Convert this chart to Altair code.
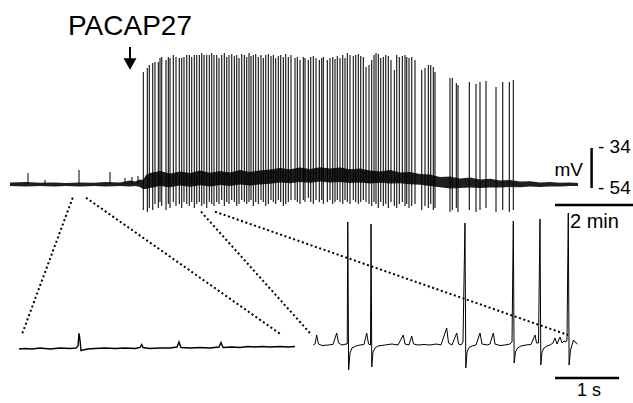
import altair as alt
import pandas as pd

# ---------------- data ----------------
# Top trace: time in min, membrane potential in mV
# spikes: (time min, peak mV, trough mV)
spikes = [
    (3.333, 4.0, -65), (3.433, 6.0, -66), (3.483, 7.5, -64), (3.568, 8.5, -65),
    (3.625, 9.0, -62), (3.708, 9.0, -64), (3.750, 11.0, -61), (3.793, 11.5, -63),
    (3.900, 10.0, -65), (3.958, 11.5, -62), (4.000, 11.0, -64), (4.083, 12.5, -61),
    (4.150, 11.5, -63), (4.233, 11.0, -62), (4.293, 11.0, -64), (4.350, 11.5, -61),
    (4.418, 12.5, -62), (4.483, 12.5, -63), (4.543, 11.5, -61), (4.608, 12.5, -64),
    (4.668, 12.5, -62), (4.733, 12.5, -61), (4.793, 13.5, -63), (4.850, 12.5, -62),
    (4.918, 12.5, -64), (4.983, 12.5, -61), (5.043, 13.5, -62), (5.100, 12.5, -63),
    (5.168, 12.5, -61), (5.225, 11.0, -62), (5.293, 12.5, -60), (5.358, 13.5, -63),
    (5.418, 11.5, -61), (5.475, 12.5, -62), (5.543, 13.0, -60), (5.608, 12.0, -61),
    (5.668, 12.5, -63), (5.725, 11.0, -62), (5.793, 13.0, -60), (5.858, 12.5, -61),
    (5.918, 11.5, -62), (5.975, 13.5, -61), (6.025, 12.0, -60), (6.083, 12.5, -63),
    (6.143, 13.0, -61), (6.208, 11.5, -62), (6.275, 12.5, -60), (6.333, 11.0, -61),
    (6.393, 12.5, -63), (6.458, 13.0, -62), (6.525, 12.0, -60), (6.583, 12.5, -61),
    (6.643, 11.0, -62), (6.708, 12.0, -60), (6.768, 12.5, -61), (6.833, 11.5, -63),
    (6.893, 13.0, -62), (6.958, 11.5, -61), (7.025, 12.5, -60),
    (7.125, 11.0, -60), (7.183, 11.5, -61), (7.250, 10.0, -62), (7.333, 11.5, -60),
    (7.375, 11.0, -61), (7.458, 10.0, -59), (7.518, 11.5, -61), (7.583, 12.0, -62),
    (7.650, 11.0, -60), (7.733, 10.0, -61), (7.793, 11.0, -60), (7.833, 11.5, -62),
    (7.933, 10.0, -61), (8.000, 11.0, -60), (8.068, 11.5, -62), (8.125, 10.5, -61),
    (8.183, 12.0, -60), (8.250, 11.0, -61), (8.318, 12.5, -62), (8.375, 11.0, -60),
    (8.433, 13.5, -61), (8.500, 12.5, -62), (8.583, 12.0, -60), (8.643, 12.5, -61),
    (8.708, 13.0, -62), (8.768, 12.0, -61), (8.833, 11.5, -60),
    (8.900, 6.5, -61), (8.975, 7.5, -62), (9.043, 10.0, -63), (9.100, 12.5, -61),
    (9.150, 13.5, -62), (9.208, 13.0, -64), (9.268, 11.0, -61), (9.333, 11.5, -63),
    (9.393, 12.5, -62), (9.458, 12.0, -64), (9.525, 10.0, -61), (9.608, 5.0, -63),
    (9.668, 12.5, -64), (9.733, 11.5, -62), (9.808, 12.0, -61), (9.875, 12.5, -63),
    (9.918, 11.5, -62), (9.975, 11.0, -64), (10.043, 11.5, -63), (10.125, 10.0, -62),
    (10.293, 5.0, -65), (10.375, 6.0, -63), (10.458, 7.5, -64), (10.518, 7.5, -62),
    (10.583, 6.5, -65), (10.625, 4.0, -64),
    (11.000, 1.0, -66), (11.058, 1.0, -65), (11.158, -1.5, -64), (11.200, -2.5, -66),
    (11.483, -1.0, -65), (11.650, -2.0, -66), (11.750, -1.0, -65), (11.900, -0.5, -64),
    (12.150, -3.5, -66), (12.318, -1.0, -65), (12.483, -1.0, -66), (12.583, 0.0, -65),
]
# baseline envelope: (time min, upper mV, lower mV)
envelope = [
    (0.00, -51.3, -53.0), (0.40, -51.0, -53.2), (0.75, -51.4, -53.0),
    (1.10, -51.2, -53.3), (1.40, -51.5, -53.0), (1.75, -51.3, -53.3),
    (2.10, -51.4, -53.0), (2.40, -51.0, -53.2), (2.75, -51.2, -53.0),
    (3.00, -50.3, -53.3), (3.125, -50.8, -53.0), (3.25, -49.8, -53.5),
    (3.325, -50.0, -54.5), (3.40, -47.5, -54.5), (3.50, -46.5, -54.0),
    (3.75, -45.5, -53.0), (4.00, -46.8, -53.6), (4.25, -45.8, -52.8),
    (4.50, -46.5, -53.4), (4.75, -45.2, -52.6), (5.00, -46.4, -53.2),
    (5.25, -45.5, -52.5), (5.50, -46.3, -53.0), (5.75, -45.0, -52.3),
    (6.00, -46.0, -52.8), (6.25, -45.2, -52.2), (6.50, -44.8, -51.9),
    (6.75, -44.0, -51.3), (7.00, -44.6, -51.6), (7.25, -43.8, -51.0),
    (7.50, -44.5, -51.4), (7.75, -43.6, -50.8), (8.00, -44.3, -51.3),
    (8.25, -43.8, -51.0), (8.50, -44.6, -51.5), (8.75, -44.2, -51.2),
    (9.00, -45.3, -51.7), (9.25, -45.8, -51.4), (9.50, -45.0, -51.8),
    (9.75, -46.3, -51.6), (10.0, -46.0, -52.1), (10.25, -47.0, -52.4),
    (10.5, -47.3, -53.0), (10.75, -48.5, -53.6), (11.0, -48.2, -54.2),
    (11.25, -49.2, -54.0), (11.5, -48.8, -53.8), (11.75, -49.8, -54.0),
    (12.0, -49.4, -53.7), (12.25, -50.3, -53.8), (12.5, -50.0, -53.5),
    (12.75, -50.8, -53.6), (13.0, -50.6, -53.3), (13.25, -51.2, -53.5),
    (13.5, -51.0, -53.2), (13.75, -51.4, -53.3), (14.0, -51.2, -53.0),
    (14.2, -51.5, -53.0),
]
# small synaptic events before the drug: (time min, peak mV)
events = [(0.45, -46.5), (0.875, -50.0), (1.725, -45.0), (2.5, -46.0),
          (2.875, -49.0), (3.05, -48.5), (3.2, -48.0)]
rest_mV = -52.0

# Expanded traces: time in s, potential in mV
left_trace = [
    (0.000, -52.35), (0.094, -52.1), (0.203, -52.35), (0.328, -51.85), (0.484, -52.35),
    (0.641, -51.85), (0.797, -52.1), (0.891, -51.85), (0.922, -50.85), (0.938, -44.5),
    (0.953, -47.85), (0.969, -53.1), (1.000, -52.85), (1.078, -52.35), (1.188, -52.1),
    (1.344, -51.85), (1.500, -52.1), (1.656, -51.85), (1.813, -52.1), (1.891, -51.6),
    (1.917, -50.1), (1.938, -51.6), (2.047, -52.1), (2.203, -51.85), (2.359, -51.85),
    (2.469, -51.35), (2.500, -48.85), (2.531, -51.6), (2.672, -51.85), (2.828, -51.6),
    (2.984, -51.85), (3.125, -51.35), (3.156, -49.1), (3.188, -51.6), (3.328, -51.35),
    (3.453, -51.6), (3.578, -51.1), (3.688, -51.35), (3.797, -51.1), (3.922, -51.35),
    (4.078, -51.1), (4.203, -51.35), (4.313, -51.1),
]
right_trace = [
    (0.000, -52.0), (0.027, -51.5), (0.053, -47.0), (0.081, -51.5), (0.136, -52.25),
    (0.230, -52.0), (0.308, -51.75), (0.366, -46.0), (0.394, -51.0), (0.448, -52.0),
    (0.511, -51.5), (0.530, -51.5), (0.539, 9.5), (0.552, -64.5), (0.573, -56.0),
    (0.605, -53.5), (0.667, -52.5), (0.730, -52.0), (0.792, -51.75), (0.834, -46.0),
    (0.863, -51.5), (0.894, -52.0), (0.902, 8.5), (0.914, -63.0), (0.933, -55.5),
    (0.964, -53.5), (1.011, -52.5), (1.120, -52.0), (1.230, -51.5), (1.323, -52.0),
    (1.406, -47.0), (1.433, -51.5), (1.495, -52.0), (1.538, -47.5), (1.566, -51.5),
    (1.636, -52.0), (1.730, -51.75), (1.823, -52.0), (1.917, -51.5), (1.995, -52.0),
    (2.084, -43.5), (2.113, -51.0), (2.167, -52.0), (2.241, -46.0), (2.269, -51.5),
    (2.308, -52.0), (2.339, -50.5), (2.370, 9.0), (2.383, -63.5), (2.402, -55.5),
    (2.433, -53.25), (2.480, -52.5), (2.542, -52.0), (2.605, -46.0), (2.636, -51.5),
    (2.714, -52.0), (2.761, -51.5), (2.813, -46.0), (2.839, -51.5), (2.917, -52.25),
    (2.995, -52.0), (3.073, -51.5), (3.105, -50.5), (3.125, 10.0), (3.138, -61.0),
    (3.159, -55.5), (3.191, -53.5), (3.245, -52.5), (3.323, -52.0), (3.402, -51.75),
    (3.464, -47.0), (3.488, -51.0), (3.519, -51.0), (3.542, 11.0), (3.555, -62.0),
    (3.573, -55.5), (3.605, -53.5), (3.652, -52.5), (3.698, -52.0), (3.745, -51.0),
    (3.777, -48.5), (3.808, -51.5), (3.855, -48.0), (3.886, -51.0), (3.917, -50.0),
    (3.948, -50.5), (3.964, -49.5), (3.984, 14.0), (3.997, -62.0), (4.019, -54.5),
    (4.042, -52.0), (4.066, -49.5), (4.089, -50.5), (4.128, -51.5),
]
# dotted connectors (top-trace units): (t1 min, v1 mV, t2 min, v2 mV)
connectors = [
    (1.568, -58.85, 0.293, -127.5),
    (1.900, -58.85, 6.793, -127.5),
    (4.775, -65.85, 7.543, -127.5),
    (5.125, -65.85, 13.95, -127.5),
]
drug_label = "PACAP27"
drug_time = 3.0          # min
mv_bar = (-54, -34)      # mV
time_bar_min = 2         # min
time_bar_s = 1           # s

# ---------------- layout (pixels) ----------------
W, H = 633, 403
FONT = "Liberation Sans"


def dom_x(px0, px_per_unit):
    return [(0 - px0) / px_per_unit, (W - px0) / px_per_unit]


def dom_y(px_ref, v_ref, px_per_unit):
    return [v_ref - (H - px_ref) / px_per_unit, v_ref + px_ref / px_per_unit]


def sc(d):
    return alt.Scale(domain=d, nice=False, zero=False)


top_x = dom_x(10, 40)
top_y = dom_y(188, -54, 2)
left_x = dom_x(19, 64)
left_y = dom_y(348.3, -52, 2)
right_x = dom_x(313.3, 64)
right_y = dom_y(345, -52, 2)


def X(field, d):
    return alt.X(field, scale=sc(d), axis=None)


def Y(field, d):
    return alt.Y(field, scale=sc(d), axis=None)


env_df = pd.DataFrame(envelope, columns=["t", "up", "lo"])
spk_df = pd.DataFrame(spikes, columns=["t", "peak", "trough"])
evt_df = pd.DataFrame(events, columns=["t", "peak"]).assign(base=rest_mV)
left_df = pd.DataFrame(left_trace, columns=["s", "v"])
right_df = pd.DataFrame(right_trace, columns=["s", "v"])
con_df = pd.DataFrame(connectors, columns=["t1", "v1", "t2", "v2"])

band = alt.Chart(env_df).mark_area(color="black", opacity=0.88).encode(
    x=X("t:Q", top_x), y=Y("up:Q", top_y), y2="lo:Q")
spk = alt.Chart(spk_df).mark_rule(color="black", strokeWidth=1.1, opacity=0.95).encode(
    x=X("t:Q", top_x), y=Y("peak:Q", top_y), y2="trough:Q")
evt = alt.Chart(evt_df).mark_rule(color="black", strokeWidth=1).encode(
    x=X("t:Q", top_x), y=Y("peak:Q", top_y), y2="base:Q")

con = alt.Chart(con_df).mark_rule(color="black", strokeWidth=2, strokeDash=[2, 2.6]).encode(
    x=X("t1:Q", top_x), x2="t2:Q", y=Y("v1:Q", top_y), y2="v2:Q")

# drug arrow + label
arr_df = pd.DataFrame({"t": [drug_time], "v1": [16.5], "v2": [9.0], "vh": [8.0],
                       "vl": [22.5], "label": [drug_label]})
shaft = alt.Chart(arr_df).mark_rule(color="black", strokeWidth=2).encode(
    x=X("t:Q", top_x), y=Y("v1:Q", top_y), y2="v2:Q")
head = alt.Chart(arr_df).mark_point(shape="triangle-down", filled=True, color="black",
                                    size=170, opacity=1).encode(
    x=X("t:Q", top_x), y=Y("vh:Q", top_y))
lab = alt.Chart(arr_df).mark_text(font=FONT, fontSize=28, align="center",
                                  baseline="alphabetic", color="black").encode(
    x=X("t:Q", top_x), y=Y("vl:Q", top_y), text="label:N")

# mV scale bar
mvb_df = pd.DataFrame({"t": [14.54], "v1": [mv_bar[0]], "v2": [mv_bar[1]]})
mvb = alt.Chart(mvb_df).mark_rule(color="black", strokeWidth=2.5).encode(
    x=X("t:Q", top_x), y=Y("v1:Q", top_y), y2="v2:Q")
mvt_df = pd.DataFrame({"t": [14.7, 14.7], "v": [-33.5, -54.0],
                       "label": ["- 34", "- 54"]})
mvt = alt.Chart(mvt_df).mark_text(font=FONT, fontSize=19, align="left",
                                  baseline="middle", color="black").encode(
    x=X("t:Q", top_x), y=Y("v:Q", top_y), text="label:N")
mvu_df = pd.DataFrame({"t": [14.325], "v": [-45.0], "label": ["mV"]})
mvu = alt.Chart(mvu_df).mark_text(font=FONT, fontSize=19, align="right",
                                  baseline="middle", color="black").encode(
    x=X("t:Q", top_x), y=Y("v:Q", top_y), text="label:N")

# 2 min bar
tb_df = pd.DataFrame({"t1": [13.625], "t2": [13.625 + time_bar_min], "v": [-62.5],
                      "tl": [14.0], "vl": [-71.0], "label": [f"{time_bar_min} min"]})
tb = alt.Chart(tb_df).mark_rule(color="black", strokeWidth=2.5).encode(
    x=X("t1:Q", top_x), x2="t2:Q", y=Y("v:Q", top_y))
tbl = alt.Chart(tb_df).mark_text(font=FONT, fontSize=20, align="left",
                                 baseline="middle", color="black").encode(
    x=X("tl:Q", top_x), y=Y("vl:Q", top_y), text="label:N")

# expanded traces
lt = alt.Chart(left_df).mark_line(color="black", strokeWidth=1.4).encode(
    x=X("s:Q", left_x), y=Y("v:Q", left_y))
rt = alt.Chart(right_df).mark_line(color="black", strokeWidth=1.0).encode(
    x=X("s:Q", right_x), y=Y("v:Q", right_y))

# 1 s bar
sb_df = pd.DataFrame({"s1": [3.777], "s2": [3.777 + time_bar_s], "v": [-68.5],
                      "sl": [4.308], "vl": [-75.0], "label": [f"{time_bar_s} s"]})
sb = alt.Chart(sb_df).mark_rule(color="black", strokeWidth=2.5).encode(
    x=X("s1:Q", right_x), x2="s2:Q", y=Y("v:Q", right_y))
sbl = alt.Chart(sb_df).mark_text(font=FONT, fontSize=18, align="center",
                                 baseline="middle", color="black").encode(
    x=X("sl:Q", right_x), y=Y("vl:Q", right_y), text="label:N")

chart = alt.layer(
    con, band, evt, spk, shaft, head, lab, mvb, mvt, mvu, tb, tbl, lt, rt, sb, sbl
).resolve_scale(x="independent", y="independent").properties(
    width=W, height=H, padding=0, autosize="none", background="white"
).configure_view(stroke=None)

chart.save("out.html", embed_options={"renderer": "svg", "actions": False})
